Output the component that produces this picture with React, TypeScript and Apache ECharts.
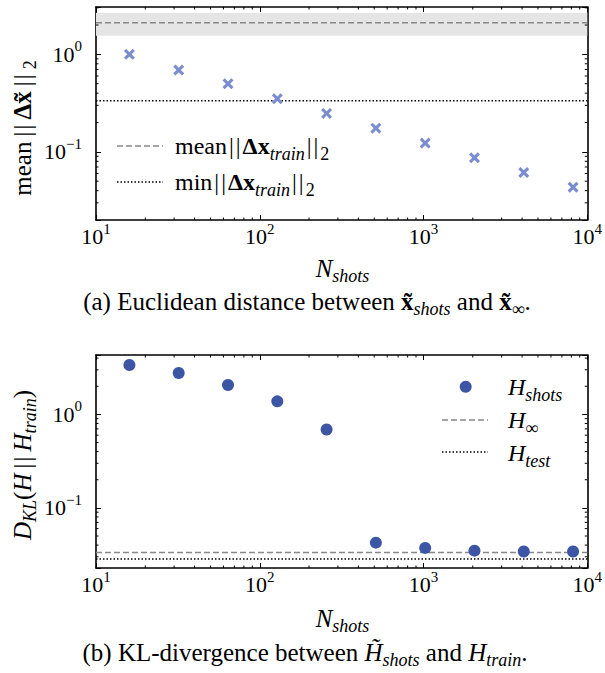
import React, { useEffect, useRef } from "react";
import * as echarts from "echarts";

// ---------- data ----------
const nShots = [16, 32, 64, 128, 256, 512, 1024, 2048, 4096, 8192];
const distValues = [1.0, 0.69, 0.5, 0.35, 0.248, 0.175, 0.123, 0.087, 0.0615, 0.0434];
const klValues = [3.38, 2.77, 2.06, 1.38, 0.69, 0.0425, 0.0373, 0.0349, 0.0341, 0.0341];
const meanTrain = 2.11;
const meanTrainBand = [1.55, 2.65];
const minTrain = 0.334;
const hInf = 0.0334;
const hTest = 0.0284;
const xRange = [10, 10000];
const yRangeTop = [0.02, 3.06];
const yRangeBottom = [0.02275, 4.32];
const xMinorTicks = [20, 30, 40, 50, 60, 70, 80, 90, 200, 300, 400, 500, 600, 700, 800, 900, 2000, 3000, 4000, 5000, 6000, 7000, 8000, 9000];
const yMinorTop = [0.03, 0.04, 0.05, 0.06, 0.07, 0.08, 0.09, 0.2, 0.3, 0.4, 0.5, 0.6, 0.7, 0.8, 0.9, 2, 3];
const yMinorBottom = [0.03, 0.04, 0.05, 0.06, 0.07, 0.08, 0.09, 0.2, 0.3, 0.4, 0.5, 0.6, 0.7, 0.8, 0.9, 2, 3, 4];

const FONT = "Liberation Serif";
const crossColor = "#7b8dd0";
const dotColor = "#3c55a5";
const grayLine = "#888888";
const TS = "\u2009"; // thin space
const HS = "\u200A"; // hair space

function makeRich(fs: number, sfs: number) {
  const slh = sfs + 2;
  const lh = slh + 14;
  const base = { fontFamily: FONT, fill: "#000", color: "#000" };
  return {
    lh,
    rich: {
      r: { ...base, fontSize: fs, lineHeight: lh },
      it: { ...base, fontSize: fs, fontStyle: "italic", lineHeight: lh },
      b: { ...base, fontSize: fs, fontWeight: "bold", lineHeight: lh },
      sub: { ...base, fontSize: sfs, fontStyle: "italic", lineHeight: slh, verticalAlign: "bottom" },
      subn: { ...base, fontSize: sfs, lineHeight: slh, verticalAlign: "bottom" },
      sup: { ...base, fontSize: sfs, lineHeight: slh, verticalAlign: "top" },
    },
  };
}

const TICK_FS = 22;
const tickRich = makeRich(TICK_FS, 15);
const TEXT_FS = 24;
const textRich = makeRich(TEXT_FS, 18);
const CAP_FS = 25;
const capRich = makeRich(CAP_FS, 18);
const NAME_FS = 25;
const nameRich = makeRich(NAME_FS, 18);

const powLabel = (v: number) => {
  const l = Math.log10(v);
  const e = Math.round(l);
  if (Math.abs(l - e) > 1e-6) return "";
  return `10{sup|${e < 0 ? "\u2212" + -e : e}}`;
};

const CROSS = "path://M2,0 L5,3 L8,0 L10,2 L7,5 L10,8 L8,10 L5,7 L2,10 L0,8 L3,5 L0,2 Z";

function xAxisCfg(gridIndex: number, position: "top" | "bottom") {
  return {
    type: "log",
    gridIndex,
    position,
    min: xRange[0],
    max: xRange[1],
    axisLine: { show: true, onZero: false, lineStyle: { color: "#000", width: 1.6 } },
    axisTick: { show: true, inside: true, length: 5, lineStyle: { color: "#000", width: 1 } },
    minorTick: { show: false },
    splitLine: { show: false },
    axisLabel: {
      show: position === "bottom",
      showMinLabel: true,
      showMaxLabel: true,
      formatter: powLabel,
      fontFamily: FONT,
      fontSize: TICK_FS,
      lineHeight: tickRich.lh,
      color: "#000",
      margin: 1,
      rich: tickRich.rich,
    },
  };
}

function yAxisCfg(gridIndex: number, position: "left" | "right", range: number[]) {
  return {
    type: "log",
    gridIndex,
    position,
    min: range[0],
    max: range[1],
    axisLine: { show: true, onZero: false, lineStyle: { color: "#000", width: 1.6 } },
    axisTick: { show: true, inside: true, length: 5, lineStyle: { color: "#000", width: 1 } },
    minorTick: { show: false },
    splitLine: { show: false },
    axisLabel: {
      show: position === "left",
      showMinLabel: true,
      showMaxLabel: true,
      formatter: powLabel,
      fontFamily: FONT,
      fontSize: TICK_FS,
      lineHeight: tickRich.lh,
      color: "#000",
      margin: 14,
      rich: tickRich.rich,
    },
  };
}

function minorX(xAxisIndex: number, yAxisIndex: number, yVal: number) {
  return {
    type: "custom",
    xAxisIndex,
    yAxisIndex,
    silent: true,
    clip: false,
    z: 5,
    data: xMinorTicks.map((v) => [v, yVal]),
    renderItem: (params: any, api: any) => {
      const cs = params.coordSys;
      const x = api.coord([api.value(0), yVal])[0];
      const top = cs.y;
      const bot = cs.y + cs.height;
      return {
        type: "group",
        children: [
          { type: "line", shape: { x1: x, y1: bot, x2: x, y2: bot - 2.5 }, style: { stroke: "#000", lineWidth: 1 } },
          { type: "line", shape: { x1: x, y1: top, x2: x, y2: top + 2.5 }, style: { stroke: "#000", lineWidth: 1 } },
        ],
      };
    },
  };
}

function minorY(xAxisIndex: number, yAxisIndex: number, values: number[]) {
  return {
    type: "custom",
    xAxisIndex,
    yAxisIndex,
    silent: true,
    clip: false,
    z: 5,
    data: values.map((v) => [xRange[0], v]),
    renderItem: (params: any, api: any) => {
      const cs = params.coordSys;
      const y = api.coord([xRange[0], api.value(1)])[1];
      const l = cs.x;
      const r = cs.x + cs.width;
      return {
        type: "group",
        children: [
          { type: "line", shape: { x1: l, y1: y, x2: l + 2.5, y2: y }, style: { stroke: "#000", lineWidth: 1 } },
          { type: "line", shape: { x1: r, y1: y, x2: r - 2.5, y2: y }, style: { stroke: "#000", lineWidth: 1 } },
        ],
      };
    },
  };
}

function hLine(xAxisIndex: number, yAxisIndex: number, value: number, color: string, dash: number[], extra: any = {}) {
  return {
    type: "line",
    xAxisIndex,
    yAxisIndex,
    data: [
      [xRange[0], value],
      [xRange[1], value],
    ],
    symbol: "none",
    silent: true,
    z: 2,
    lineStyle: { color, width: 1.5, type: dash },
    ...extra,
  };
}

function txt(x: number, y: number, text: string, opts: any = {}) {
  const rs = opts.rs || textRich;
  const fs = opts.fs || TEXT_FS;
  return {
    type: "text",
    x,
    y,
    rotation: opts.rotation || 0,
    silent: true,
    style: {
      text,
      fontFamily: FONT,
      fontSize: fs,
      lineHeight: rs.lh,
      fill: "#000",
      align: opts.align || "left",
      verticalAlign: "middle",
      textAlign: opts.align || "left",
      textVerticalAlign: "middle",
      rich: rs.rich,
    },
  };
}

const legBars = `${HS}|${HS}|${HS}`;
const nameBars = `${TS}|${HS}|${TS}`;

export default function App() {
  const ref = useRef<HTMLDivElement>(null);
  useEffect(() => {
    if (!ref.current) return;
    const chart = echarts.init(ref.current, null, { renderer: "svg" });
    const option: any = {
      animation: false,
      backgroundColor: "#fff",
      grid: [
        { left: 96, top: 7, width: 493, height: 213 },
        { left: 96, top: 355, width: 493, height: 213 },
      ],
      xAxis: [xAxisCfg(0, "bottom"), xAxisCfg(0, "top"), xAxisCfg(1, "bottom"), xAxisCfg(1, "top")],
      yAxis: [
        yAxisCfg(0, "left", yRangeTop),
        yAxisCfg(0, "right", yRangeTop),
        yAxisCfg(1, "left", yRangeBottom),
        yAxisCfg(1, "right", yRangeBottom),
      ],
      series: [
        hLine(0, 0, meanTrain, grayLine, [6, 3], {
          markArea: {
            silent: true,
            itemStyle: { color: "#e5e5e5" },
            data: [[{ yAxis: meanTrainBand[0] }, { yAxis: meanTrainBand[1] }]],
          },
        }),
        hLine(0, 0, minTrain, "#000", [1.5, 2]),
        {
          type: "scatter",
          xAxisIndex: 0,
          yAxisIndex: 0,
          symbol: CROSS,
          symbolSize: 11,
          z: 4,
          itemStyle: { color: crossColor, opacity: 1 },
          data: nShots.map((n, i) => [n, distValues[i]]),
        },
        hLine(2, 2, hInf, grayLine, [6, 3]),
        hLine(2, 2, hTest, "#000", [1.5, 2]),
        {
          type: "scatter",
          xAxisIndex: 2,
          yAxisIndex: 2,
          symbol: "circle",
          symbolSize: 12,
          z: 4,
          itemStyle: { color: dotColor, opacity: 1 },
          data: nShots.map((n, i) => [n, klValues[i]]),
        },
        minorX(0, 0, yRangeTop[0]),
        minorY(0, 0, yMinorTop),
        minorX(2, 2, yRangeBottom[0]),
        minorY(2, 2, yMinorBottom),
      ],
      graphic: [
        // top legend
        { type: "line", silent: true, shape: { x1: 117, y1: 146, x2: 163, y2: 146 }, style: { stroke: grayLine, lineWidth: 1.5, lineDash: [6, 3] } },
        { type: "line", silent: true, shape: { x1: 117, y1: 182, x2: 163, y2: 182 }, style: { stroke: "#000", lineWidth: 1.5, lineDash: [1.5, 2] } },
        txt(175, 146, `mean${legBars}{b|\u0394x}{sub|train}${legBars}{subn|2}`),
        txt(175, 182, `min${legBars}{b|\u0394x}{sub|train}${legBars}{subn|2}`),
        // bottom legend
        { type: "circle", silent: true, shape: { cx: 465.7, cy: 386.7, r: 6 }, style: { fill: dotColor } },
        { type: "line", silent: true, shape: { x1: 442, y1: 420, x2: 488, y2: 420 }, style: { stroke: grayLine, lineWidth: 1.5, lineDash: [6, 3] } },
        { type: "line", silent: true, shape: { x1: 442, y1: 452, x2: 488, y2: 452 }, style: { stroke: "#000", lineWidth: 1.5, lineDash: [1.5, 2] } },
        txt(508, 386.7, "{it|H}{sub|shots}"),
        txt(508, 420, "{it|H}{subn|\u221e}"),
        txt(508, 453, "{it|H}{sub|test}"),
        // axis titles
        txt(22, 128, `mean${nameBars}{b|\u0394x\u0303}${nameBars}{subn|2}`, { align: "center", rotation: Math.PI / 2, rs: nameRich, fs: NAME_FS }),
        txt(22, 465, `{it|D}{sub|KL}({it|H}${nameBars}{it|H}{sub|train})`, { align: "center", rotation: Math.PI / 2, rs: nameRich, fs: NAME_FS }),
        txt(342.5, 268, "{it|N}{sub|shots}", { align: "center", rs: nameRich, fs: 25 }),
        txt(342.5, 618, "{it|N}{sub|shots}", { align: "center", rs: nameRich, fs: 25 }),
        // captions
        txt(307, 301, "(a) Euclidean distance between {b|x\u0303}{sub|shots} and {b|x\u0303}{subn|\u221e}.", { align: "center", rs: capRich, fs: CAP_FS }),
        txt(305, 652, "(b) KL-divergence between {it|H\u0303}{sub|shots} and {it|H}{sub|train}.", { align: "center", rs: capRich, fs: CAP_FS }),
      ],
    };
    chart.setOption(option);
    return () => chart.dispose();
  }, []);
  return <div ref={ref} style={{ position: "fixed", left: 0, top: 0, width: 605, height: 673 }} />;
}
